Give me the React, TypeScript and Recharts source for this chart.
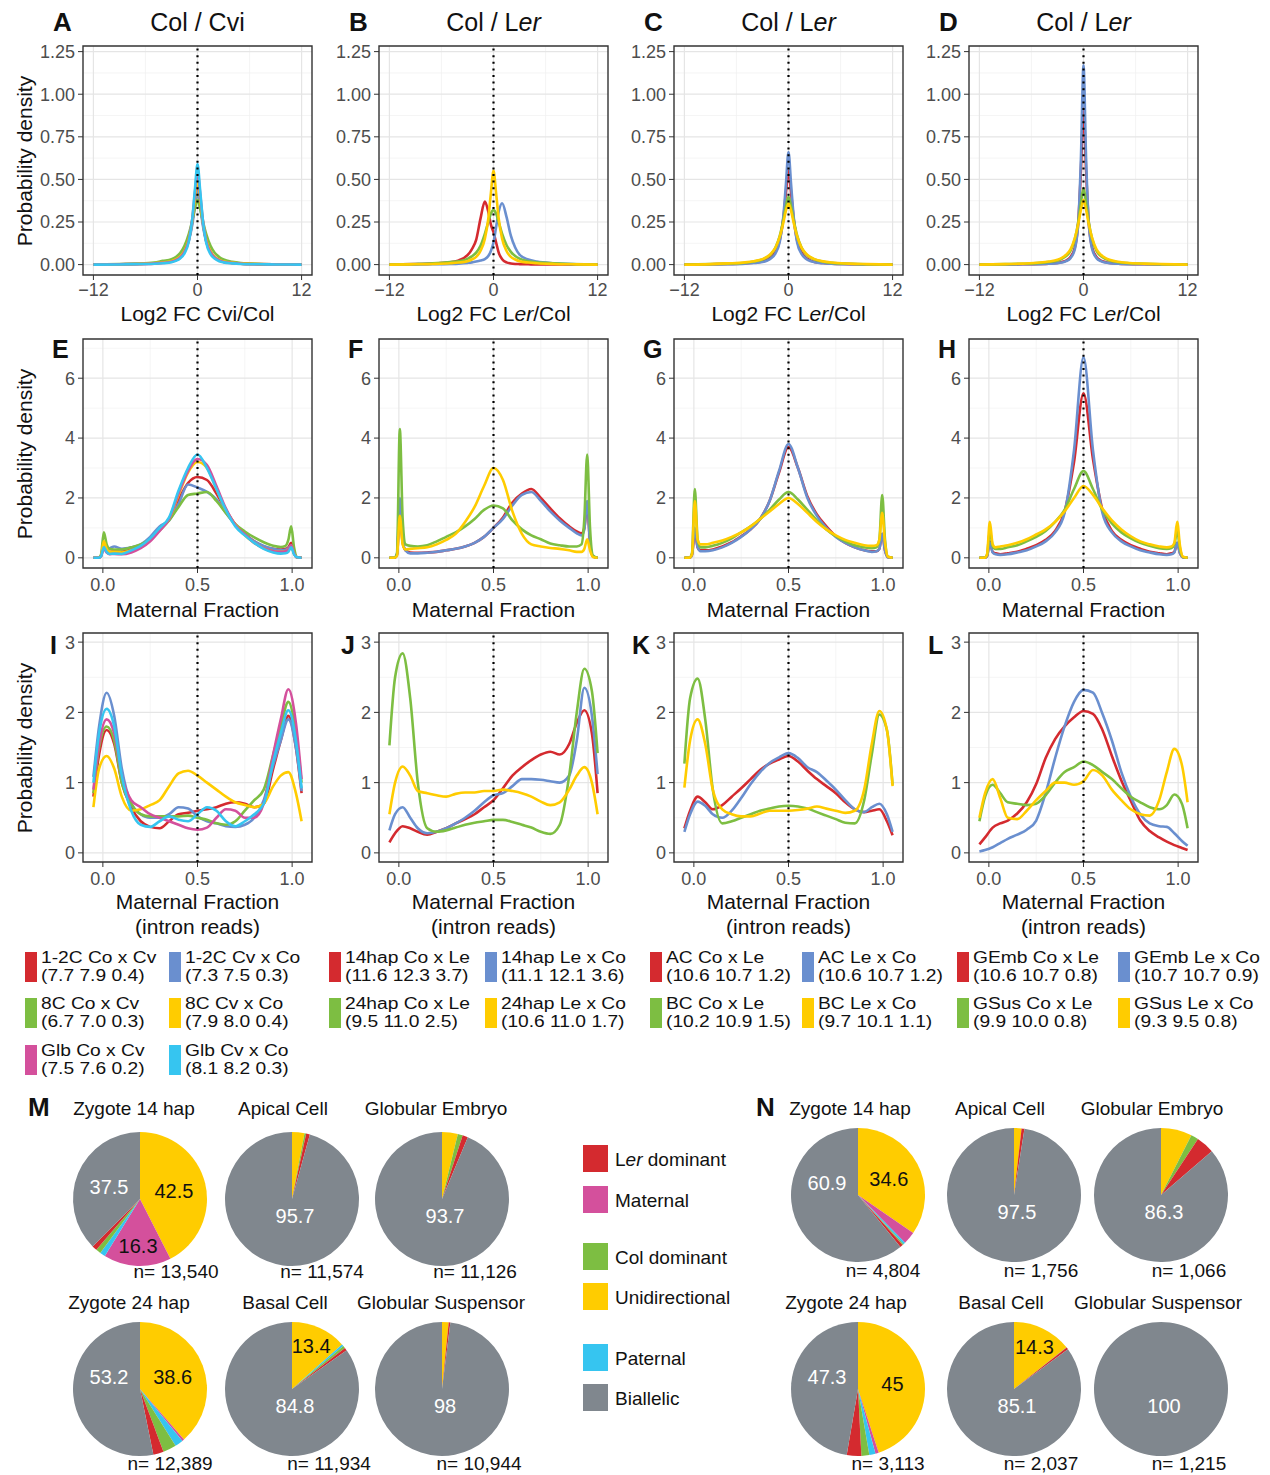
import React from 'react';
import { LineChart, Line, XAxis, YAxis, CartesianGrid, ReferenceLine, ReferenceArea, PieChart, Pie, Cell } from 'recharts';

const RED = '#d42a2f';
const BLUE = '#6a8fcf';
const GREEN = '#7dbe42';
const YELLOW = '#ffcc00';
const PINK = '#d4509c';
const CYAN = '#36c5f0';
const GRAY = '#80878e';

// ---- line panel series (legend names + sub labels) ----
const namesA = ['1-2C Co x Cv', '1-2C Cv x Co', '8C Co x Cv', '8C Cv x Co', 'Glb Co x Cv', 'Glb Cv x Co'];
const subsA = ['(7.7 7.9 0.4)', '(7.3 7.5 0.3)', '(6.7 7.0 0.3)', '(7.9 8.0 0.4)', '(7.5 7.6 0.2)', '(8.1 8.2 0.3)'];
const colorsA = [RED, BLUE, GREEN, YELLOW, PINK, CYAN];
const namesB = ['14hap Co x Le', '14hap Le x Co', '24hap Co x Le', '24hap Le x Co'];
const subsB = ['(11.6 12.3 3.7)', '(11.1 12.1 3.6)', '(9.5 11.0 2.5)', '(10.6 11.0 1.7)'];
const namesC = ['AC Co x Le', 'AC Le x Co', 'BC Co x Le', 'BC Le x Co'];
const subsC = ['(10.6 10.7 1.2)', '(10.6 10.7 1.2)', '(10.2 10.9 1.5)', '(9.7 10.1 1.1)'];
const namesD = ['GEmb Co x Le', 'GEmb Le x Co', 'GSus Co x Le', 'GSus Le x Co'];
const subsD = ['(10.6 10.7 0.8)', '(10.7 10.7 0.9)', '(9.9 10.0 0.8)', '(9.3 9.5 0.8)'];
const colors4 = [RED, BLUE, GREEN, YELLOW];

// ---- row 1: Log2 FC densities ----
const fcX = [-12, -9, -7, -5, -4, -3, -2.5, -2, -1.5, -1, -0.6, -0.3, 0, 0.3, 0.6, 1, 1.5, 2, 2.5, 3, 4, 5, 7, 9, 12];
const fcA = [
  [0, 0.002, 0.004, 0.007, 0.011, 0.018, 0.027, 0.044, 0.078, 0.145, 0.25, 0.37, 0.48, 0.37, 0.25, 0.14, 0.075, 0.042, 0.026, 0.017, 0.01, 0.006, 0.003, 0.001, 0],
  [0, 0.002, 0.004, 0.007, 0.012, 0.02, 0.03, 0.047, 0.08, 0.14, 0.235, 0.34, 0.43, 0.34, 0.235, 0.135, 0.075, 0.043, 0.027, 0.018, 0.01, 0.006, 0.003, 0.001, 0],
  [0, 0.003, 0.006, 0.012, 0.022, 0.032, 0.045, 0.068, 0.11, 0.18, 0.26, 0.33, 0.38, 0.33, 0.26, 0.18, 0.11, 0.068, 0.045, 0.03, 0.016, 0.009, 0.004, 0.002, 0],
  [0, 0.002, 0.004, 0.008, 0.012, 0.02, 0.03, 0.046, 0.08, 0.15, 0.26, 0.39, 0.5, 0.39, 0.26, 0.145, 0.077, 0.044, 0.027, 0.018, 0.01, 0.006, 0.003, 0.001, 0],
  [0, 0.002, 0.003, 0.006, 0.01, 0.017, 0.026, 0.042, 0.075, 0.145, 0.27, 0.42, 0.55, 0.42, 0.27, 0.14, 0.072, 0.04, 0.025, 0.016, 0.009, 0.005, 0.002, 0.001, 0],
  [0, 0.001, 0.003, 0.005, 0.008, 0.014, 0.022, 0.036, 0.066, 0.135, 0.27, 0.44, 0.59, 0.44, 0.27, 0.13, 0.062, 0.034, 0.02, 0.013, 0.007, 0.004, 0.002, 0.001, 0],
];
const fcB = [
  [0, 0.003, 0.006, 0.013, 0.025, 0.055, 0.09, 0.145, 0.27, 0.37, 0.31, 0.235, 0.19, 0.13, 0.07, 0.032, 0.013, 0.007, 0.004, 0.003, 0.002, 0.001, 0.001, 0, 0],
  [0, 0.001, 0.002, 0.004, 0.006, 0.01, 0.013, 0.018, 0.024, 0.032, 0.05, 0.08, 0.13, 0.22, 0.31, 0.36, 0.28, 0.17, 0.1, 0.058, 0.03, 0.018, 0.008, 0.003, 0],
  [0, 0.004, 0.008, 0.015, 0.02, 0.034, 0.048, 0.07, 0.11, 0.18, 0.25, 0.3, 0.32, 0.3, 0.25, 0.18, 0.115, 0.075, 0.05, 0.035, 0.02, 0.013, 0.008, 0.004, 0],
  [0, 0.002, 0.004, 0.008, 0.012, 0.02, 0.03, 0.045, 0.08, 0.15, 0.27, 0.42, 0.55, 0.42, 0.27, 0.15, 0.08, 0.045, 0.03, 0.02, 0.012, 0.008, 0.004, 0.002, 0],
];
const fcC = [
  [0, 0.002, 0.004, 0.007, 0.011, 0.018, 0.027, 0.043, 0.075, 0.145, 0.27, 0.42, 0.55, 0.42, 0.27, 0.14, 0.072, 0.04, 0.025, 0.016, 0.009, 0.005, 0.003, 0.001, 0],
  [0, 0.002, 0.003, 0.006, 0.009, 0.015, 0.023, 0.037, 0.066, 0.135, 0.28, 0.47, 0.66, 0.47, 0.28, 0.13, 0.063, 0.035, 0.021, 0.014, 0.008, 0.005, 0.002, 0.001, 0],
  [0, 0.003, 0.006, 0.011, 0.018, 0.03, 0.042, 0.062, 0.1, 0.17, 0.26, 0.34, 0.4, 0.34, 0.26, 0.17, 0.1, 0.062, 0.042, 0.03, 0.017, 0.01, 0.005, 0.002, 0],
  [0, 0.003, 0.007, 0.013, 0.02, 0.032, 0.045, 0.066, 0.1, 0.165, 0.245, 0.315, 0.36, 0.315, 0.245, 0.165, 0.1, 0.066, 0.045, 0.032, 0.019, 0.012, 0.006, 0.003, 0],
];
const fcD = [
  [0, 0.001, 0.002, 0.004, 0.006, 0.01, 0.015, 0.024, 0.045, 0.1, 0.25, 0.55, 0.92, 0.55, 0.25, 0.1, 0.045, 0.024, 0.015, 0.01, 0.006, 0.004, 0.002, 0.001, 0],
  [0, 0.001, 0.002, 0.003, 0.005, 0.008, 0.012, 0.02, 0.038, 0.09, 0.25, 0.62, 1.17, 0.62, 0.25, 0.09, 0.038, 0.02, 0.012, 0.008, 0.005, 0.003, 0.002, 0.001, 0],
  [0, 0.003, 0.005, 0.01, 0.015, 0.024, 0.034, 0.05, 0.08, 0.15, 0.25, 0.36, 0.45, 0.36, 0.25, 0.15, 0.08, 0.05, 0.034, 0.024, 0.014, 0.009, 0.005, 0.002, 0],
  [0, 0.003, 0.006, 0.012, 0.018, 0.028, 0.04, 0.058, 0.09, 0.155, 0.24, 0.32, 0.38, 0.32, 0.24, 0.155, 0.09, 0.058, 0.04, 0.028, 0.017, 0.011, 0.006, 0.003, 0],
];

// ---- row 2: maternal fraction densities ----
const mfX = [-0.05, -0.025, -0.01, 0.005, 0.02, 0.035, 0.06, 0.1, 0.15, 0.2, 0.25, 0.3, 0.35, 0.4, 0.45, 0.5, 0.55, 0.6, 0.65, 0.7, 0.75, 0.8, 0.85, 0.9, 0.94, 0.965, 0.98, 0.995, 1.01, 1.025, 1.05];
const mfE = [
  [0, 0, 0.06, 0.45, 0.28, 0.2, 0.22, 0.2, 0.28, 0.38, 0.62, 0.95, 1.3, 1.95, 2.5, 2.7, 2.6, 2.15, 1.6, 1.12, 0.8, 0.55, 0.38, 0.3, 0.28, 0.3, 0.35, 0.5, 0.18, 0.02, 0],
  [0, 0, 0.06, 0.4, 0.3, 0.32, 0.38, 0.3, 0.35, 0.45, 0.7, 1.05, 1.25, 1.8, 2.45, 2.35, 2.2, 1.95, 1.5, 1.1, 0.8, 0.55, 0.4, 0.3, 0.26, 0.27, 0.32, 0.42, 0.15, 0.02, 0],
  [0, 0, 0.1, 0.85, 0.45, 0.3, 0.28, 0.28, 0.35, 0.45, 0.62, 0.92, 1.25, 1.7, 2.1, 2.15, 2.2, 1.9, 1.5, 1.12, 0.88, 0.68, 0.52, 0.4, 0.36, 0.4, 0.6, 1.05, 0.35, 0.03, 0],
  [0, 0, 0.07, 0.55, 0.3, 0.2, 0.2, 0.18, 0.25, 0.35, 0.6, 0.95, 1.3, 2.1, 2.85, 3.2, 3.0, 2.3, 1.6, 1.1, 0.75, 0.5, 0.32, 0.22, 0.2, 0.22, 0.28, 0.4, 0.15, 0.02, 0],
  [0, 0, 0.05, 0.3, 0.18, 0.12, 0.13, 0.12, 0.18, 0.32, 0.55, 0.9, 1.3, 2.15, 2.9, 3.3, 3.1, 2.4, 1.65, 1.1, 0.78, 0.5, 0.32, 0.22, 0.2, 0.22, 0.28, 0.42, 0.15, 0.02, 0],
  [0, 0, 0.05, 0.35, 0.2, 0.13, 0.14, 0.13, 0.25, 0.4, 0.65, 1.0, 1.35, 2.25, 3.0, 3.45, 3.0, 2.3, 1.6, 1.05, 0.75, 0.5, 0.3, 0.18, 0.14, 0.15, 0.2, 0.35, 0.12, 0.02, 0],
];
const mfF = [
  [0, 0, 0.1, 1.5, 0.5, 0.25, 0.18, 0.17, 0.18, 0.2, 0.25, 0.3, 0.38, 0.5, 0.7, 1.0, 1.35, 1.85, 2.15, 2.3, 2.0, 1.65, 1.32, 1.05, 0.88, 0.82, 1.0, 1.8, 0.5, 0.05, 0],
  [0, 0, 0.12, 2.0, 0.6, 0.25, 0.15, 0.15, 0.17, 0.2, 0.25, 0.3, 0.38, 0.5, 0.7, 1.0, 1.3, 1.75, 2.1, 2.2, 1.9, 1.55, 1.25, 1.0, 0.82, 0.75, 0.95, 1.9, 0.5, 0.05, 0],
  [0, 0, 0.15, 4.3, 1.3, 0.45, 0.4, 0.38, 0.42, 0.55, 0.7, 0.85, 1.05, 1.3, 1.6, 1.75, 1.65, 1.25, 0.95, 0.75, 0.62, 0.48, 0.42, 0.38, 0.38, 0.45, 1.3, 3.45, 1.0, 0.08, 0],
  [0, 0, 0.06, 1.4, 0.45, 0.28, 0.3, 0.32, 0.35, 0.45, 0.6, 0.8, 1.2, 1.7, 2.4, 3.0, 2.6, 1.55, 0.8, 0.45, 0.38, 0.33, 0.3, 0.25, 0.2, 0.2, 0.3, 0.62, 0.25, 0.03, 0],
];
const mfG = [
  [0, 0, 0.1, 0.9, 0.35, 0.25, 0.25, 0.28, 0.38, 0.52, 0.72, 0.95, 1.3, 1.9, 2.85, 3.7, 3.0, 2.05, 1.45, 1.05, 0.72, 0.5, 0.35, 0.25, 0.22, 0.22, 0.3, 0.8, 0.25, 0.02, 0],
  [0, 0, 0.1, 1.0, 0.35, 0.22, 0.22, 0.25, 0.35, 0.5, 0.7, 0.95, 1.3, 1.9, 2.9, 3.8, 3.0, 2.0, 1.4, 1.0, 0.7, 0.5, 0.35, 0.25, 0.2, 0.22, 0.3, 0.8, 0.25, 0.02, 0],
  [0, 0, 0.15, 2.3, 0.6, 0.35, 0.35, 0.4, 0.5, 0.65, 0.85, 1.05, 1.3, 1.6, 1.95, 2.2, 1.95, 1.6, 1.25, 0.95, 0.72, 0.55, 0.42, 0.35, 0.32, 0.35, 0.6, 2.1, 0.6, 0.04, 0],
  [0, 0, 0.12, 1.9, 0.6, 0.45, 0.45, 0.5, 0.58, 0.7, 0.85, 1.05, 1.3, 1.55, 1.8, 2.0, 1.8, 1.5, 1.2, 0.95, 0.75, 0.6, 0.5, 0.42, 0.4, 0.42, 0.6, 1.5, 0.5, 0.04, 0],
];
const mfH = [
  [0, 0, 0.05, 0.55, 0.2, 0.15, 0.12, 0.15, 0.2, 0.3, 0.42, 0.6, 0.9, 1.55, 3.2, 5.5, 3.3, 1.6, 0.9, 0.6, 0.42, 0.3, 0.2, 0.15, 0.12, 0.15, 0.2, 0.5, 0.15, 0.02, 0],
  [0, 0, 0.05, 0.5, 0.18, 0.12, 0.1, 0.12, 0.18, 0.25, 0.38, 0.55, 0.85, 1.5, 3.6, 6.7, 3.6, 1.5, 0.85, 0.55, 0.38, 0.25, 0.18, 0.12, 0.1, 0.12, 0.18, 0.5, 0.15, 0.02, 0],
  [0, 0, 0.1, 0.9, 0.4, 0.3, 0.3, 0.35, 0.42, 0.55, 0.7, 0.9, 1.2, 1.6, 2.3, 2.9, 2.3, 1.6, 1.15, 0.85, 0.65, 0.5, 0.4, 0.32, 0.3, 0.33, 0.45, 0.9, 0.3, 0.03, 0],
  [0, 0, 0.1, 1.2, 0.45, 0.35, 0.38, 0.42, 0.5, 0.62, 0.78, 0.95, 1.2, 1.55, 2.0, 2.4, 2.1, 1.65, 1.25, 0.95, 0.72, 0.55, 0.45, 0.38, 0.35, 0.38, 0.5, 1.2, 0.4, 0.04, 0],
];

// ---- row 3: maternal fraction (intron reads) densities ----
const inX = [-0.05, -0.02, 0.02, 0.06, 0.1, 0.15, 0.2, 0.25, 0.3, 0.35, 0.4, 0.45, 0.5, 0.55, 0.6, 0.65, 0.7, 0.75, 0.8, 0.85, 0.9, 0.94, 0.98, 1.02, 1.05];
const inI = [
  [0.8, 1.4, 1.75, 1.55, 1.0, 0.65, 0.45, 0.37, 0.35, 0.45, 0.55, 0.57, 0.6, 0.62, 0.65, 0.7, 0.72, 0.7, 0.65, 0.7, 1.2, 1.6, 1.95, 1.5, 0.85],
  [1.08, 1.8, 2.28, 1.95, 1.2, 0.7, 0.55, 0.5, 0.5, 0.55, 0.65, 0.63, 0.52, 0.45, 0.42, 0.38, 0.37, 0.4, 0.5, 0.75, 1.25, 1.6, 1.9, 1.5, 0.88],
  [0.85, 1.5, 1.8, 1.6, 1.0, 0.7, 0.55, 0.52, 0.52, 0.52, 0.52, 0.53, 0.5, 0.47, 0.42, 0.4, 0.45, 0.6, 0.75, 0.9, 1.4, 1.8, 2.15, 1.7, 1.0],
  [0.65, 1.2, 1.38, 1.2, 0.8, 0.6, 0.62, 0.68, 0.75, 0.95, 1.13, 1.17, 1.1, 1.0, 0.9, 0.8, 0.72, 0.68, 0.65, 0.7, 0.95, 1.1, 1.15, 0.85, 0.45],
  [0.9, 1.55, 1.9, 1.7, 1.1, 0.75, 0.65, 0.55, 0.5, 0.45, 0.4, 0.35, 0.33, 0.36, 0.5, 0.62, 0.6, 0.5, 0.5, 0.7, 1.4, 1.9, 2.33, 1.85, 1.05],
  [1.0, 1.7, 2.05, 1.8, 1.1, 0.6, 0.4, 0.37, 0.45, 0.52, 0.47, 0.45, 0.55, 0.65, 0.6, 0.45, 0.38, 0.45, 0.55, 0.7, 1.3, 1.7, 2.03, 1.6, 0.92],
];
const inJ = [
  [0.15, 0.28, 0.38, 0.35, 0.3, 0.26, 0.3, 0.35, 0.42, 0.48, 0.55, 0.65, 0.75, 0.92, 1.1, 1.22, 1.32, 1.4, 1.44, 1.4, 1.55, 1.85, 2.03, 1.7, 0.85],
  [0.32, 0.55, 0.65, 0.5, 0.35, 0.28, 0.3, 0.35, 0.42, 0.5, 0.6, 0.72, 0.82, 0.85, 0.95, 1.05, 1.05, 1.04, 1.02, 1.0, 1.1, 1.6, 2.35, 1.95, 1.12],
  [1.53, 2.5, 2.84, 2.2, 1.0, 0.35, 0.3, 0.32, 0.36, 0.4, 0.43, 0.45, 0.47, 0.47, 0.44, 0.4, 0.36, 0.3, 0.27, 0.4, 1.1, 2.0, 2.62, 2.3, 1.42],
  [0.55, 1.0, 1.23, 1.1, 0.88, 0.85, 0.82, 0.8, 0.84, 0.86, 0.86, 0.88, 0.88, 0.9, 0.88, 0.85, 0.8, 0.73, 0.68, 0.72, 0.9, 1.1, 1.22, 1.0, 0.55],
];
const inK = [
  [0.35, 0.6, 0.8, 0.72, 0.62, 0.68, 0.8, 0.92, 1.05, 1.18, 1.27, 1.33, 1.38, 1.3, 1.17, 1.05, 0.95, 0.85, 0.72, 0.62, 0.58, 0.6, 0.62, 0.45, 0.25],
  [0.3, 0.55, 0.73, 0.67, 0.55, 0.5, 0.6, 0.78, 0.98, 1.15, 1.28, 1.36, 1.42, 1.35, 1.22, 1.15, 1.03, 0.9, 0.75, 0.62, 0.58, 0.65, 0.7, 0.55, 0.3],
  [1.27, 2.2, 2.48, 1.9, 0.9, 0.42, 0.45, 0.5, 0.55, 0.6, 0.63, 0.66, 0.67, 0.66, 0.63, 0.58, 0.53, 0.48, 0.43, 0.42, 0.75, 1.4, 1.97, 1.75, 0.97],
  [0.93, 1.6, 1.9, 1.55, 0.9, 0.62, 0.55, 0.52, 0.52, 0.56, 0.6, 0.6, 0.6, 0.61, 0.63, 0.66, 0.63, 0.6, 0.57, 0.6, 0.9, 1.55, 2.02, 1.75, 0.95],
];
const inL = [
  [0.12, 0.22, 0.36, 0.42, 0.46, 0.56, 0.72, 0.98, 1.35, 1.62, 1.8, 1.93, 2.02, 1.98, 1.75, 1.38, 1.03, 0.74, 0.46, 0.31, 0.22, 0.16, 0.11, 0.07, 0.04],
  [0.02, 0.04, 0.08, 0.14, 0.2, 0.26, 0.33, 0.46, 0.85, 1.35, 1.8, 2.15, 2.32, 2.28, 1.98, 1.6, 1.15, 0.8, 0.55, 0.42, 0.38, 0.37, 0.28, 0.17, 0.1],
  [0.45, 0.8, 0.97, 0.85, 0.72, 0.7, 0.68, 0.7, 0.82, 1.0, 1.15, 1.22, 1.3, 1.25, 1.15, 1.05, 0.92, 0.8, 0.72, 0.65, 0.62, 0.68, 0.83, 0.7, 0.35],
  [0.5, 0.85, 1.05, 0.78, 0.5, 0.48, 0.6, 0.75, 0.88, 1.0, 1.0, 0.97, 1.02, 1.18, 1.1, 0.9, 0.75, 0.62, 0.55, 0.53, 0.75, 1.15, 1.48, 1.25, 0.72],
];

// ---- pies (slice order clockwise from 12 o'clock) ----
const sliceNames = ['Unidirectional', 'Maternal', 'Paternal', 'Col dominant', 'Ler dominant', 'Biallelic'];
const sliceColors = [YELLOW, PINK, CYAN, GREEN, RED, GRAY];
const pieTitles = ['Zygote 14 hap', 'Apical Cell', 'Globular Embryo', 'Zygote 24 hap', 'Basal Cell', 'Globular Suspensor'];
const mVals = [
  [42.5, 16.3, 1.3, 1.2, 1.2, 37.5],
  [3.0, 0, 0, 0.4, 0.9, 95.7],
  [3.8, 0, 0, 1.2, 1.3, 93.7],
  [38.6, 0.5, 2.0, 3.2, 2.5, 53.2],
  [13.4, 0, 0.5, 0.6, 0.7, 84.8],
  [1.6, 0, 0, 0, 0.4, 98],
];
const mCounts = ['13,540', '11,574', '11,126', '12,389', '11,934', '10,944'];
const nVals = [
  [34.6, 3.0, 0.5, 0.3, 0.7, 60.9],
  [1.8, 0, 0, 0, 0.7, 97.5],
  [7.5, 0, 0, 1.8, 4.4, 86.3],
  [45, 0.8, 1.5, 1.9, 3.5, 47.3],
  [14.3, 0, 0, 0.1, 0.5, 85.1],
  [0, 0, 0, 0, 0, 100],
];
const nCounts = ['4,804', '1,756', '1,066', '3,113', '2,037', '1,215'];
const catLegend = ['Ler dominant', 'Maternal', 'Col dominant', 'Unidirectional', 'Paternal', 'Biallelic'];
const catLegendColors = [RED, PINK, GREEN, YELLOW, CYAN, GRAY];

const FONT = '"Liberation Sans", Arial, Helvetica, sans-serif';

const KIND: any = {
  fc: {
    xDomain: [-13.2, 13.2], yDomain: [-0.061, 1.283], xTicks: [-12, 0, 12], xMinor: [-6, 6],
    yTicks: [0, 0.25, 0.5, 0.75, 1, 1.25], yMinor: [0.125, 0.375, 0.625, 0.875, 1.125], vline: 0,
    fx: (v: number) => (v < 0 ? '\u2212' + Math.abs(v) : String(v)), fy: (v: number) => v.toFixed(2),
  },
  mf: {
    xDomain: [-0.105, 1.105], yDomain: [-0.34, 7.31], xTicks: [0, 0.5, 1], xMinor: [0.25, 0.75],
    yTicks: [0, 2, 4, 6], yMinor: [1, 3, 5, 7], vline: 0.5,
    fx: (v: number) => v.toFixed(1), fy: (v: number) => String(v),
  },
  intron: {
    xDomain: [-0.105, 1.105], yDomain: [-0.13, 3.13], xTicks: [0, 0.5, 1], xMinor: [0.25, 0.75],
    yTicks: [0, 1, 2, 3], yMinor: [0.5, 1.5, 2.5], vline: 0.5,
    fx: (v: number) => v.toFixed(1), fy: (v: number) => String(v),
  },
};

const BOX = 229;
const colLeft = [83, 379, 674, 969];
const rowTop = [46, 339, 633];

function DensityPanel({ left, top, xs, names, colors, vals, kind }: any) {
  const k = KIND[kind];
  const rows = xs.map((x: number, i: number) => {
    const r: any = { x };
    names.forEach((n: string, j: number) => { r[n] = vals[j][i]; });
    return r;
  });
  const tick = { fill: '#4d4d4d', fontSize: 18 };
  return (
    <div style={{ position: 'absolute', left: left - 60, top: top - 8 }}>
      <LineChart width={60 + BOX + 8} height={8 + BOX + 40} data={rows} margin={{ top: 8, right: 8, bottom: 0, left: 0 }}>
        <CartesianGrid stroke="#f0f0f0" strokeWidth={0.7} horizontalValues={k.yMinor} verticalValues={k.xMinor} />
        <CartesianGrid stroke="#e5e5e5" strokeWidth={1.2} horizontalValues={k.yTicks} verticalValues={k.xTicks} />
        <XAxis type="number" dataKey="x" domain={k.xDomain} ticks={k.xTicks} tickFormatter={k.fx} allowDataOverflow
          height={40} axisLine={false} tickLine={{ stroke: '#333' }} tickSize={5} tickMargin={kind === 'fc' ? 3 : 5} tick={tick} interval={0} />
        <YAxis type="number" domain={k.yDomain} ticks={k.yTicks} tickFormatter={k.fy} allowDataOverflow
          width={60} axisLine={false} tickLine={{ stroke: '#333' }} tickSize={5} tickMargin={3} tick={tick} interval={0} />
        {names.map((n: string, j: number) => (
          <Line key={n} type="monotone" dataKey={n} stroke={colors[j]} strokeWidth={2.6} dot={false} isAnimationActive={false} />
        ))}
        <ReferenceLine x={k.vline} stroke="#000" strokeWidth={2.2} strokeDasharray="2 4.6" />
        <ReferenceArea x1={k.xDomain[0]} x2={k.xDomain[1]} y1={k.yDomain[0]} y2={k.yDomain[1]}
          fill="none" stroke="#333" strokeWidth={1.4} ifOverflow="visible" />
      </LineChart>
    </div>
  );
}

const RAD = Math.PI / 180;
function renderPieLabel(p: any) {
  const { cx, cy, midAngle, outerRadius, value, index } = p;
  if (value < 10) return null;
  const name = sliceNames[index];
  let x: number;
  let y: number;
  if (name === 'Biallelic') {
    if (value > 80) { x = cx + 3; y = cy + 17; } else { x = cx - 31; y = cy - 12; }
  } else {
    const r = outerRadius * (value < 20 ? 0.7 : 0.52);
    x = cx + r * Math.cos(-midAngle * RAD);
    y = cy + r * Math.sin(-midAngle * RAD);
  }
  return (
    <text x={x} y={y} fill={name === 'Biallelic' ? '#fff' : '#111'} fontSize={20} textAnchor="middle" dominantBaseline="central">
      {value}
    </text>
  );
}

function PieBlock({ cx, cy, vals }: any) {
  const data = sliceNames.map((n, i) => ({ name: n, value: vals[i] }));
  return (
    <div style={{ position: 'absolute', left: cx - 75, top: cy - 75 }}>
      <PieChart width={150} height={150}>
        <Pie data={data} dataKey="value" cx={75} cy={75} outerRadius={67} startAngle={90} endAngle={-270}
          stroke="none" label={renderPieLabel} labelLine={false} isAnimationActive={false}>
          {data.map((d, i) => <Cell key={d.name} fill={sliceColors[i]} />)}
        </Pie>
      </PieChart>
    </div>
  );
}

function T({ x, y, size, bold, rot, color, anchor, children }: any) {
  const tx = anchor === 'start' ? '0' : '-50%';
  return (
    <div style={{
      position: 'absolute', left: x, top: y, transform: `translate(${tx},-50%)${rot ? ' rotate(-90deg)' : ''}`,
      fontSize: size, fontWeight: bold ? 700 : 400, whiteSpace: 'nowrap', color: color || '#111', lineHeight: 1,
    }}>{children}</div>
  );
}

const Ler = () => <>L<span style={{ fontStyle: 'italic' }}>er</span></>;

// legend text is drawn a bit wider than tall, like the squeezed lettering of the figure
function LegendLine({ x, y, children }: any) {
  return (
    <div style={{
      position: 'absolute', left: x, top: y, fontSize: 16, lineHeight: '18px', color: '#111', whiteSpace: 'nowrap',
      transform: 'scaleX(1.2)', transformOrigin: '0 0',
    }}>{children}</div>
  );
}

function SeriesLegend({ xs, names, subs, colors }: any) {
  const tops = [952, 998, 1045];
  return (
    <>
      {names.map((n: string, i: number) => {
        const x = xs[i % 2];
        const t = tops[Math.floor(i / 2)];
        return (
          <React.Fragment key={n}>
            <div style={{ position: 'absolute', left: x, top: t, width: 12, height: 30, background: colors[i] }} />
            <LegendLine x={x + 16} y={t - 3}>{n}</LegendLine>
            <LegendLine x={x + 16} y={t + 15}>{subs[i]}</LegendLine>
          </React.Fragment>
        );
      })}
    </>
  );
}

export default function App() {
  const colsCenter = colLeft.map((l) => l + BOX / 2);
  const mCx = [135, 287, 437];
  const nCx = [853, 1009, 1156];
  const mTitleX = [134, 283, 436, 129, 285, 441];
  const mCountX = [176, 322, 475, 170, 329, 479];
  const nTitleX = [850, 1000, 1152, 846, 1001, 1158];
  const nCountX = [883, 1041, 1189, 888, 1041, 1189];
  const legTops = [1145, 1186, 1243, 1283, 1344, 1384];
  return (
    <div style={{ position: 'absolute', left: 0, top: 0, width: 1270, height: 1475, background: '#fff', fontFamily: FONT, overflow: 'hidden' }}>
      {/* row 1 */}
      <DensityPanel left={colLeft[0]} top={rowTop[0]} xs={fcX} names={namesA} colors={colorsA} vals={fcA} kind="fc" />
      <DensityPanel left={colLeft[1]} top={rowTop[0]} xs={fcX} names={namesB} colors={colors4} vals={fcB} kind="fc" />
      <DensityPanel left={colLeft[2]} top={rowTop[0]} xs={fcX} names={namesC} colors={colors4} vals={fcC} kind="fc" />
      <DensityPanel left={colLeft[3]} top={rowTop[0]} xs={fcX} names={namesD} colors={colors4} vals={fcD} kind="fc" />
      {/* row 2 */}
      <DensityPanel left={colLeft[0]} top={rowTop[1]} xs={mfX} names={namesA} colors={colorsA} vals={mfE} kind="mf" />
      <DensityPanel left={colLeft[1]} top={rowTop[1]} xs={mfX} names={namesB} colors={colors4} vals={mfF} kind="mf" />
      <DensityPanel left={colLeft[2]} top={rowTop[1]} xs={mfX} names={namesC} colors={colors4} vals={mfG} kind="mf" />
      <DensityPanel left={colLeft[3]} top={rowTop[1]} xs={mfX} names={namesD} colors={colors4} vals={mfH} kind="mf" />
      {/* row 3 */}
      <DensityPanel left={colLeft[0]} top={rowTop[2]} xs={inX} names={namesA} colors={colorsA} vals={inI} kind="intron" />
      <DensityPanel left={colLeft[1]} top={rowTop[2]} xs={inX} names={namesB} colors={colors4} vals={inJ} kind="intron" />
      <DensityPanel left={colLeft[2]} top={rowTop[2]} xs={inX} names={namesC} colors={colors4} vals={inK} kind="intron" />
      <DensityPanel left={colLeft[3]} top={rowTop[2]} xs={inX} names={namesD} colors={colors4} vals={inL} kind="intron" />

      {/* panel letters and titles */}
      {['A', 'B', 'C', 'D'].map((L, i) => <T key={L} x={colLeft[i] - 30} y={22} size={26} bold anchor="start">{L}</T>)}
      {['E', 'F', 'G', 'H'].map((L, i) => <T key={L} x={colLeft[i] - 31} y={349} size={25} bold anchor="start">{L}</T>)}
      {['I', 'J', 'K', 'L'].map((L, i) => <T key={L} x={[50, 341, 632, 928][i]} y={645} size={25} bold anchor="start">{L}</T>)}
      <T x={colsCenter[0]} y={22} size={25}>Col / Cvi</T>
      {[1, 2, 3].map((i) => <T key={i} x={colsCenter[i]} y={22} size={25}>Col / <Ler /></T>)}

      {/* axis titles */}
      {rowTop.map((t, r) => <T key={r} x={24} y={t + BOX / 2} size={21} rot>Probability density</T>)}
      <T x={colsCenter[0]} y={313} size={21}>Log2 FC Cvi/Col</T>
      {[1, 2, 3].map((i) => <T key={i} x={colsCenter[i]} y={313} size={21}>Log2 FC <Ler />/Col</T>)}
      {colsCenter.map((c, i) => <T key={'mf' + i} x={c} y={609} size={21}>Maternal Fraction</T>)}
      {colsCenter.map((c, i) => <T key={'in' + i} x={c} y={901} size={21}>Maternal Fraction</T>)}
      {colsCenter.map((c, i) => <T key={'ir' + i} x={c} y={926} size={21}>(intron reads)</T>)}

      {/* series legends */}
      <SeriesLegend xs={[25, 169]} names={namesA} subs={subsA} colors={colorsA} />
      <SeriesLegend xs={[329, 485]} names={namesB} subs={subsB} colors={colors4} />
      <SeriesLegend xs={[650, 802]} names={namesC} subs={subsC} colors={colors4} />
      <SeriesLegend xs={[957, 1118]} names={namesD} subs={subsD} colors={colors4} />

      {/* pies M */}
      <T x={28} y={1107} size={26} bold anchor="start">M</T>
      {mVals.map((v, i) => (
        <PieBlock key={'m' + i} cx={mCx[i % 3]} cy={i < 3 ? 1194 : 1384} vals={v} />
      ))}
      {pieTitles.map((t, i) => <T key={'mt' + i} x={mTitleX[i]} y={i < 3 ? 1108 : 1302} size={19}>{t}</T>)}
      {mCounts.map((c, i) => <T key={'mc' + i} x={mCountX[i]} y={i < 3 ? 1271 : 1463} size={19}>n= {c}</T>)}

      {/* category legend */}
      {catLegend.map((c, i) => (
        <React.Fragment key={c}>
          <div style={{ position: 'absolute', left: 583, top: legTops[i], width: 25, height: 27, background: catLegendColors[i] }} />
          <T x={615} y={legTops[i] + 13.5} size={19} anchor="start">{c === 'Ler dominant' ? <><Ler /> dominant</> : c}</T>
        </React.Fragment>
      ))}

      {/* pies N */}
      <T x={756} y={1107} size={26} bold anchor="start">N</T>
      {nVals.map((v, i) => (
        <PieBlock key={'n' + i} cx={nCx[i % 3]} cy={i < 3 ? 1190 : 1384} vals={v} />
      ))}
      {pieTitles.map((t, i) => <T key={'nt' + i} x={nTitleX[i]} y={i < 3 ? 1108 : 1302} size={19}>{t}</T>)}
      {nCounts.map((c, i) => <T key={'nc' + i} x={nCountX[i]} y={i < 3 ? 1270 : 1463} size={19}>n= {c}</T>)}
    </div>
  );
}
